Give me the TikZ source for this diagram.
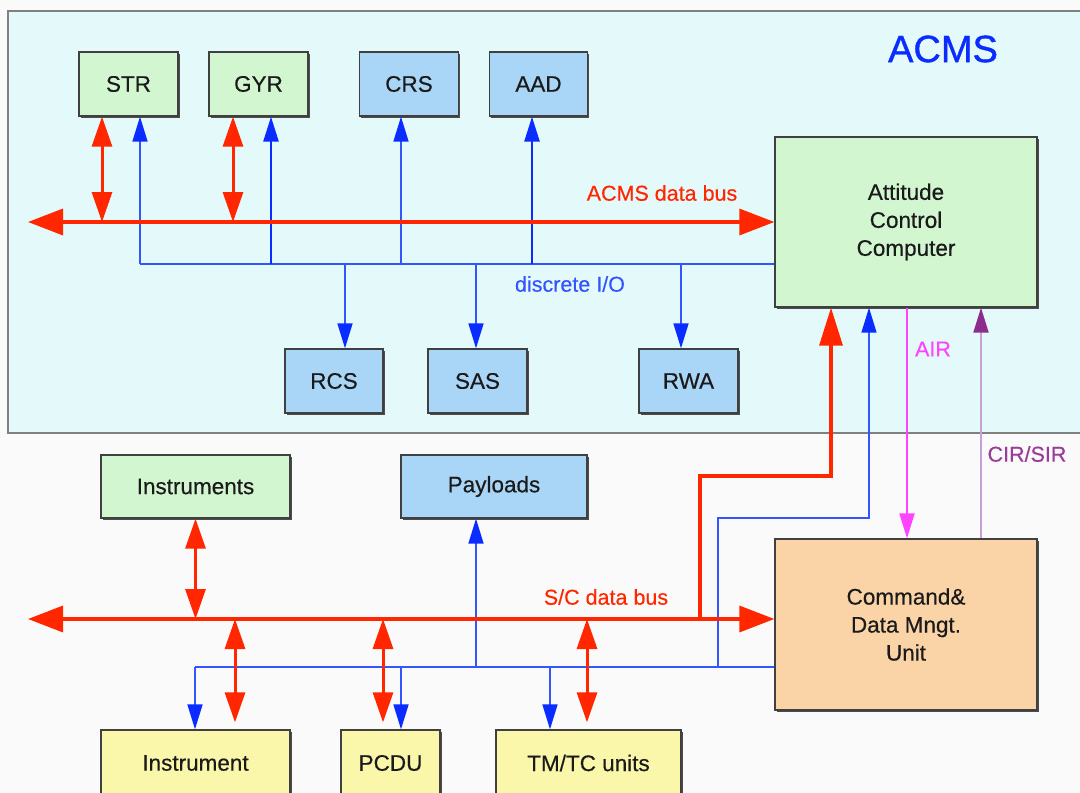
\documentclass[tikz,border=0pt]{standalone}
\usepackage{fontspec}
\setmainfont{Liberation Sans}[FakeBold=0.4]
\newfontfamily\heavyfont{Liberation Sans}[FakeBold=1]
\usetikzlibrary{arrows.meta,shadows}
\definecolor{bgc}{HTML}{FAFAFA}
\definecolor{panelc}{HTML}{E4FAFA}
\definecolor{panelline}{HTML}{808080}
\definecolor{greenbox}{HTML}{D2F6D0}
\definecolor{bluebox}{HTML}{A9D5F7}
\definecolor{yellowbox}{HTML}{FAF6AA}
\definecolor{orangebox}{HTML}{FAD4A6}
\definecolor{redc}{HTML}{FF2600}
\definecolor{bluec}{HTML}{0A2CFF}
\definecolor{bluel}{HTML}{3355FF}
\definecolor{magc}{HTML}{FF44FF}
\definecolor{purl}{HTML}{C9A0D6}
\definecolor{purd}{HTML}{8E2C8E}
\definecolor{purt}{HTML}{9B3C9B}
\definecolor{txt}{HTML}{1A1A1A}
\begin{document}
\begin{tikzpicture}[x=1pt,y=-1pt,
  box/.style={draw=black!75, line width=1.3pt, inner sep=0pt, text=txt,
    font=\fontsize{22.5}{28}\selectfont, align=center,
    drop shadow={shadow xshift=1.5pt, shadow yshift=-1.5pt, fill=black!70, opacity=1}},
  gbox/.style={box, fill=greenbox},
  bbox/.style={box, fill=bluebox},
  ybox/.style={box, fill=yellowbox},
  obox/.style={box, fill=orangebox},
  small/.style={minimum width=99pt, minimum height=64pt},
  wide/.style={minimum width=189pt, minimum height=63pt},
  rbus/.style={draw=redc, line width=3.5pt, {Triangle[length=35pt,width=26pt]}-{Triangle[length=35pt,width=26pt]}},
  rdbl/.style={draw=redc, line width=3pt, {Triangle[length=30pt,width=20pt]}-{Triangle[length=30pt,width=20pt]}},
  bline/.style={draw=bluel, line width=1.6pt},
  barr/.style={draw=bluel, line width=1.6pt, -{Triangle[length=25pt,width=15pt,color=bluec]}},
  bthick/.style={draw=bluec, line width=2.6pt, -{Triangle[length=25pt,width=15pt]}},
  lbl/.style={font=\fontsize{21.5}{25}\selectfont, inner sep=0pt}
]
\useasboundingbox (0,0) rectangle (1080,793);
\fill[bgc] (0,0) rectangle (1080,793);
% ACMS panel
\draw[panelline, fill=panelc, line width=2pt] (8,11) rectangle (1095,433);

% nodes
\node[gbox, small] (str) at (128.5,84) {STR};
\node[gbox, small] (gyr) at (258.5,84) {GYR};
\node[bbox, small] (crs) at (409,84) {CRS};
\node[bbox, small, minimum width=98pt] (aad) at (538.5,84) {AAD};
\node[bbox, small, minimum width=98pt] (rcs) at (334,381) {RCS};
\node[bbox, small] (sas) at (477.5,381) {SAS};
\node[bbox, small] (rwa) at (688.5,381) {RWA};
\node[gbox, minimum width=262pt, minimum height=170pt] (acc) at (906,222) {Attitude\\Control\\Computer};
\node[gbox, wide] (instruments) at (195.5,486.5) {Instruments};
\node[bbox, wide, minimum width=186pt] (payloads) at (494,486.5) {Payloads};
\node[obox, minimum width=262pt, minimum height=171pt] (cdmu) at (906,624.5) {Command\&\\Data Mngt.\\Unit};
\node[ybox, wide, minimum height=66pt] (instrument) at (195.5,763) {Instrument};
\node[ybox, small, minimum height=66pt] (pcdu) at (390.5,763) {PCDU};
\node[ybox, wide, minimum width=185pt, minimum height=66pt] (tmtc) at (588.5,763) {TM/TC units};

% labels
\node[font=\heavyfont\fontsize{38}{42}\selectfont, text=bluec, inner sep=0pt] (acmslbl) at (943,49) {ACMS};
\node[lbl, text=redc] (acmsbus) at (662,193) {ACMS data bus};
\node[lbl, text=bluel] (dio) at (570,284) {discrete I/O};
\node[lbl, text=magc] (air) at (933,349) {AIR};
\node[lbl, text=purt] (cirsir) at (1027,454) {CIR/SIR};
\node[lbl, text=redc] (scbus) at (606,597) {S/C data bus};

% coordinates
\coordinate (acmsL) at (28,222);
\coordinate (dioL) at (140,264);
\coordinate (scL) at (28,619);
\coordinate (lbL) at (195,667);
\coordinate (rj) at (831,476);
\coordinate (bj) at (869,518);

% ACMS discrete I/O bus
\draw[bline] (dioL) -- (acc.west |- dioL);
\draw[barr] (dioL) -- (str.south -| dioL);
\draw[bthick] (271,0 |- dioL) -- (gyr.south -| 271,0);
\draw[barr] (401,0 |- dioL) -- (crs.south -| 401,0);
\draw[bthick] (532,0 |- dioL) -- (aad.south -| 532,0);
\draw[barr] (345,0 |- dioL) -- (rcs.north -| 345,0);
\draw[barr] (476,0 |- dioL) -- (sas.north -| 476,0);
\draw[barr] (681,0 |- dioL) -- (rwa.north -| 681,0);

% ACMS data bus
\draw[rbus] (acmsL) -- (acc.west);
\draw[rdbl] (str.south -| 102,0) -- (102,0 |- acmsL);
\draw[rdbl] (gyr.south -| 233,0) -- (233,0 |- acmsL);

% lower blue bus
\draw[bline] (lbL) -- (cdmu.west |- lbL);
\draw[barr] (lbL) -- (instrument.north -| lbL);
\draw[barr] (401,0 |- lbL) -- (pcdu.north -| 401,0);
\draw[barr] (550,0 |- lbL) -- (tmtc.north -| 550,0);
\draw[barr] (476,0 |- lbL) -- (payloads.south -| 476,0);
\draw[draw=bluel, line width=1.4pt, -{Triangle[length=25pt,width=15pt,color=bluec]}] (718,0 |- lbL) |- (bj) -- (acc.south -| bj);

% S/C data bus
\draw[rbus] (scL) -- (cdmu.west |- scL);
\draw[rdbl] (instruments.south) -- (instruments.south |- scL);
\draw[rdbl] (235,0 |- scL) -- ([yshift=7pt]instrument.north -| 235,0);
\draw[rdbl] (383,0 |- scL) -- ([yshift=7pt]pcdu.north -| 383,0);
\draw[rdbl] (587,0 |- scL) -- ([yshift=7pt]tmtc.north -| 587,0);
\draw[draw=redc, line width=3.2pt, -{Triangle[length=38pt,width=23pt]}] (700,0 |- scL) |- (rj) -- (acc.south -| rj);

% AIR and CIR/SIR
\draw[draw=magc, line width=2pt, -{Triangle[length=25pt,width=15pt]}] (acc.south -| 907,0) -- (cdmu.north -| 907,0);
\draw[draw=purl, line width=2pt, -{Triangle[length=25pt,width=15pt,color=purd]}] (cdmu.north -| 981,0) -- (acc.south -| 981,0);
\end{tikzpicture}
\end{document}
